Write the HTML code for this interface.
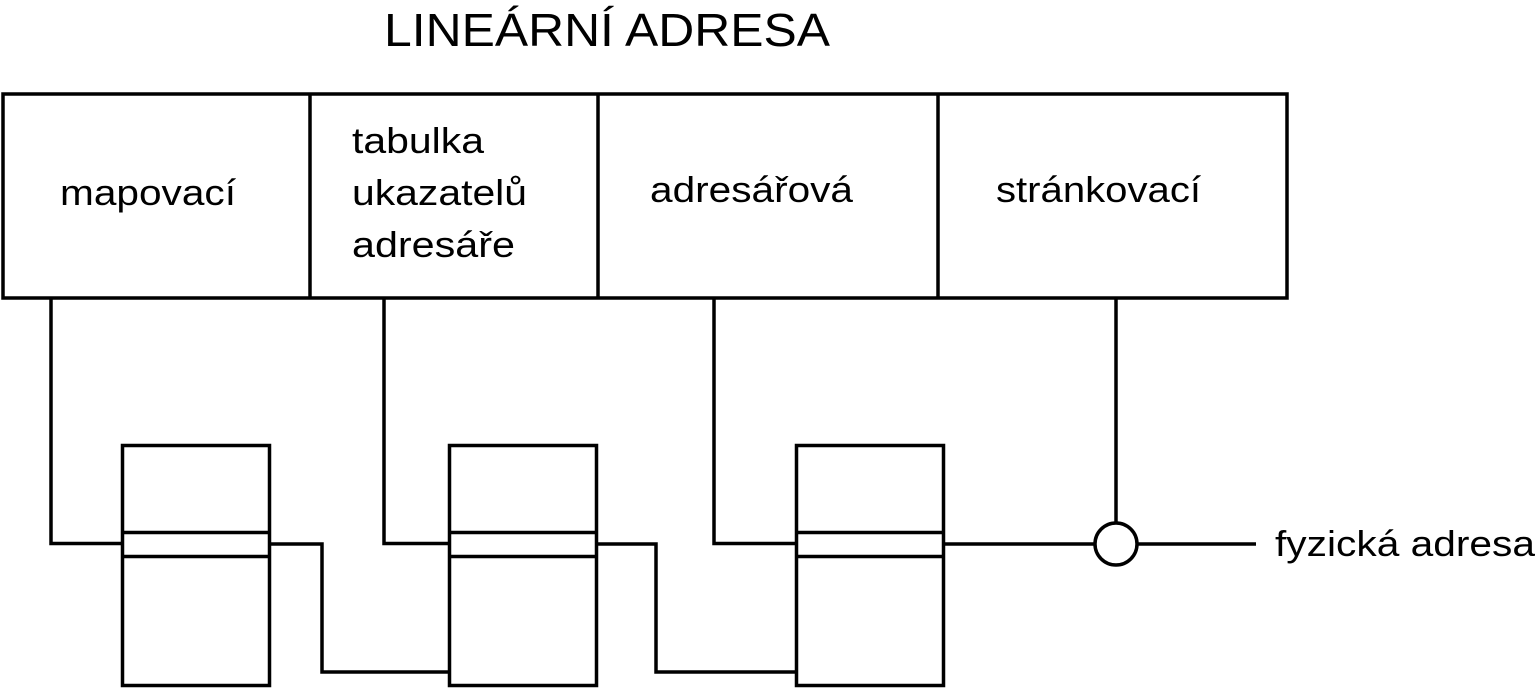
<!DOCTYPE html>
<html><head><style>body{margin:0;background:#fff}</style></head><body>
<svg width="1538" height="688" xmlns="http://www.w3.org/2000/svg" style="display:block">
<g fill="none" stroke="#000" stroke-width="3.5">
<rect x="3" y="94" width="1284" height="204"/>
<line x1="310" y1="94" x2="310" y2="298"/><line x1="598" y1="94" x2="598" y2="298"/><line x1="938" y1="94" x2="938" y2="298"/>
<rect x="122.5" y="445.5" width="147" height="240"/><line x1="122" y1="532.5" x2="270" y2="532.5"/><line x1="122" y1="556.5" x2="270" y2="556.5"/>
<rect x="449.5" y="445.5" width="147" height="240"/><line x1="449" y1="532.5" x2="597" y2="532.5"/><line x1="449" y1="556.5" x2="597" y2="556.5"/>
<rect x="796.5" y="445.5" width="147" height="240"/><line x1="796" y1="532.5" x2="944" y2="532.5"/><line x1="796" y1="556.5" x2="944" y2="556.5"/>
<polyline points="51,298 51,543.5 122,543.5"/>
<polyline points="270,544 322,544 322,672 449,672"/>
<polyline points="384,298 384,543.5 449,543.5"/>
<polyline points="597,544 656,544 656,672 796,672"/>
<polyline points="714,298 714,543.5 796,543.5"/>
<line x1="944" y1="544" x2="1095" y2="544"/>
<circle cx="1116" cy="544" r="21"/>
<line x1="1116" y1="298" x2="1116" y2="523"/>
<line x1="1137" y1="544" x2="1256" y2="544"/>
</g>
<g font-family="Liberation Sans, sans-serif" fill="#000" font-size="36" lengthAdjust="spacingAndGlyphs">
<text x="384" y="46" font-size="46" textLength="446" lengthAdjust="spacingAndGlyphs">LINEÁRNÍ ADRESA</text>
<text x="60" y="205" textLength="176" lengthAdjust="spacingAndGlyphs">mapovací</text>
<text x="352" y="153" textLength="132" lengthAdjust="spacingAndGlyphs">tabulka</text>
<text x="352" y="205" textLength="175" lengthAdjust="spacingAndGlyphs">ukazatelů</text>
<text x="352" y="257" textLength="163" lengthAdjust="spacingAndGlyphs">adresáře</text>
<text x="650" y="202" textLength="203" lengthAdjust="spacingAndGlyphs">adresářová</text>
<text x="996" y="202" textLength="205" lengthAdjust="spacingAndGlyphs">stránkovací</text>
<text x="1275" y="556" textLength="260" lengthAdjust="spacingAndGlyphs">fyzická adresa</text>
</g>
</svg>
</body></html>
